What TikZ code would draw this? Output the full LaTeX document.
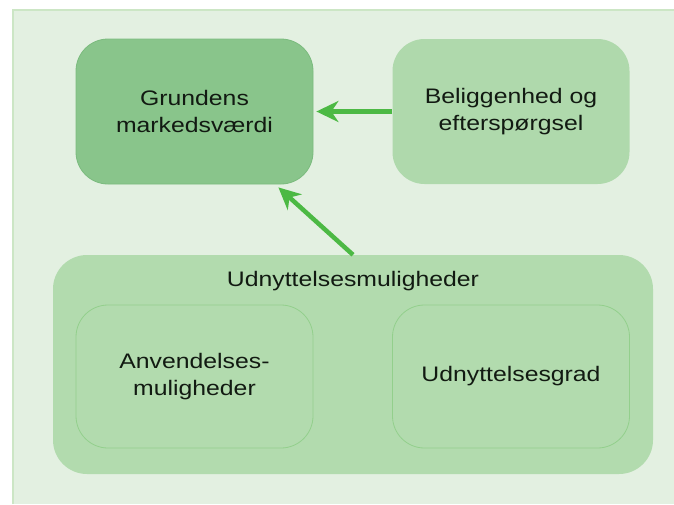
\documentclass[tikz,border=0pt]{standalone}
\usepackage{fontspec}
\setmainfont{Liberation Sans}[FakeStretch=1.18]
\usepackage{xcolor}
\usepackage{tikz}
\usetikzlibrary{arrows.meta}
\definecolor{paper}{HTML}{E3F0E1}
\definecolor{rim}{HTML}{CCE6C5}
\definecolor{deep}{HTML}{89C58B}
\definecolor{deepline}{HTML}{7BBB7E}
\definecolor{pale}{HTML}{AFD9AC}
\definecolor{frame}{HTML}{B2DBAE}
\definecolor{frameline}{HTML}{93CF8C}
\definecolor{arrowgreen}{HTML}{4CB944}
\definecolor{ink}{HTML}{121A12}
\tikzset{
  box/.style={rectangle, rounded corners=32pt, minimum width=237pt, minimum height=145pt,
    align=center, text=ink, font=\fontsize{21}{27}\selectfont, inner sep=0pt},
  dark/.style={box, fill=deep, draw=deepline, line width=0.8pt},
  light/.style={box, fill=pale},
  sub/.style={box, minimum height=143pt, fill=frame, draw=frameline, line width=0.8pt},
  group/.style={rectangle, rounded corners=34pt, minimum width=600pt, minimum height=219pt,
    fill=frame, inner sep=0pt},
  lab/.style={text=ink, font=\fontsize{21}{27}\selectfont, inner sep=0pt},
  link/.style={draw=arrowgreen, line width=4.5pt, -{Stealth[length=22pt,width=21pt,inset=7pt]}},
}

\begin{document}
\begin{tikzpicture}[x=1pt,y=-1pt]
  \useasboundingbox (0,0) rectangle (674,504);
  \fill[white] (0,0) rectangle (674,504);
  \fill[paper] (13,10) rectangle (674,504);
  \draw[rim, line width=1.5pt] (13,504) -- (13,10) -- (674,10);
  \node[group] (grp) at (353,364.5) {};
  \node[lab, anchor=base] (grptitle) at (353,286) {Udnyttelsesmuligheder};
  \node[sub] (anv) at (194.5,376.5) {Anvendelses-\\muligheder};
  \node[sub] (grad) at (511,376.5) {Udnyttelsesgrad};
  \node[dark] (grund) at (194.5,111.5) {Grundens\\markedsværdi};
  \node[light] (belig) at (511,111.5) {Beliggenhed og\\efterspørgsel};
  \coordinate (gcorner) at ([xshift=-35pt,yshift=-3pt]grund.south east);
  \draw[link, shorten >=3pt] (belig.west) -- (grund.east);
  \draw[link] (grp.north) -- (gcorner);
\end{tikzpicture}
\end{document}
